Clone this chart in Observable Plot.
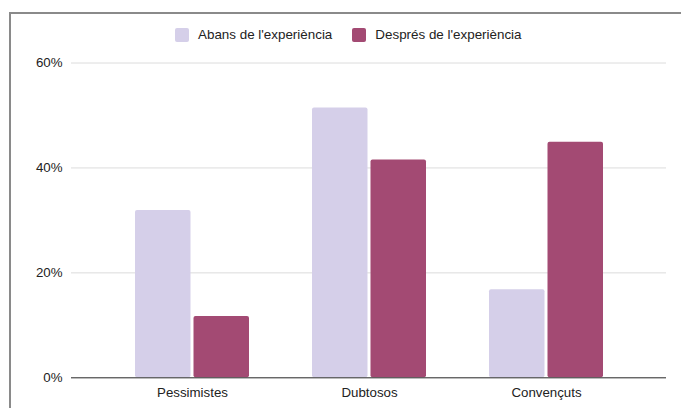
<!DOCTYPE html>
<html>
<head>
<meta charset="utf-8">
<script src="https://cdn.jsdelivr.net/npm/d3@7"></script>
<script src="https://cdn.jsdelivr.net/npm/@observablehq/plot@0.6"></script>
<style>
  html, body { margin: 0; padding: 0; background: #fff; overflow: hidden; width: 681px; height: 408px; }
  body { font-family: "Liberation Sans", Arial, sans-serif; color: #222; position: relative; }
  #frame { position: absolute; left: 9px; top: 12px; width: 800px; height: 600px; border: 2px solid #8a8a8a; box-sizing: border-box; pointer-events: none; }
  #legend { position: absolute; left: 175px; top: 27px; display: flex; align-items: center; font-size: 13.4px; }
  .item { display: flex; align-items: center; margin-right: 20px; }
  .sw { width: 14px; height: 14px; border-radius: 2px; margin-right: 9px; }
  #chart { position: absolute; left: 0; top: 50px; }
</style>
</head>
<body>
<div id="frame"></div>
<div id="legend"></div>
<div id="chart"></div>
<script>
const categories = ["Pessimistes", "Dubtosos", "Convençuts"];
const series = ["Abans de l'experiència", "Després de l'experiència"];
const abans = [0.319, 0.514, 0.168];
const despres = [0.117, 0.415, 0.449];
const yTicks = [0, 0.2, 0.4, 0.6];
const colors = ["#d5cfe9", "#a34a73"];

const abansData = categories.map((c, i) => ({category: c, series: series[0], value: abans[i]}));
const despresData = categories.map((c, i) => ({category: c, series: series[1], value: despres[i]}));

const legend = document.getElementById("legend");
series.forEach((s, i) => {
  const it = document.createElement("div");
  it.className = "item";
  const sw = document.createElement("div");
  sw.className = "sw";
  sw.style.background = colors[i];
  const t = document.createElement("span");
  t.textContent = s;
  it.appendChild(sw);
  it.appendChild(t);
  legend.appendChild(it);
});

const chart = Plot.plot({
  width: 681,
  height: 358,
  marginTop: 12.5,
  marginBottom: 30.7,
  marginLeft: 71,
  marginRight: 15,
  style: {fontFamily: "'Liberation Sans', Arial, sans-serif", fontSize: "13.3px", color: "#222", background: "transparent"},
  x: {domain: categories, paddingInner: 0.357, paddingOuter: 0.354, label: null},
  y: {domain: [0, 0.6], label: null},
  color: {domain: series, range: colors},
  marks: [
    Plot.gridY(yTicks, {stroke: "#dcdcdc", strokeOpacity: 1}),
    Plot.axisY(yTicks, {tickSize: 0, tickPadding: 9, tickFormat: d3.format(".0%"), label: null, fill: "#222"}),
    Plot.barY(abansData, {x: "category", y: "value", fill: "series", rx: 2, insetRight: 58.5}),
    Plot.barY(despresData, {x: "category", y: "value", fill: "series", rx: 2, insetLeft: 58.5}),
    Plot.ruleY([0], {stroke: "#333", strokeWidth: 1}),
    Plot.axisX({tickSize: 0, tickPadding: 10, label: null, fill: "#222"})
  ]
});
document.getElementById("chart").appendChild(chart);
</script>
</body>
</html>
